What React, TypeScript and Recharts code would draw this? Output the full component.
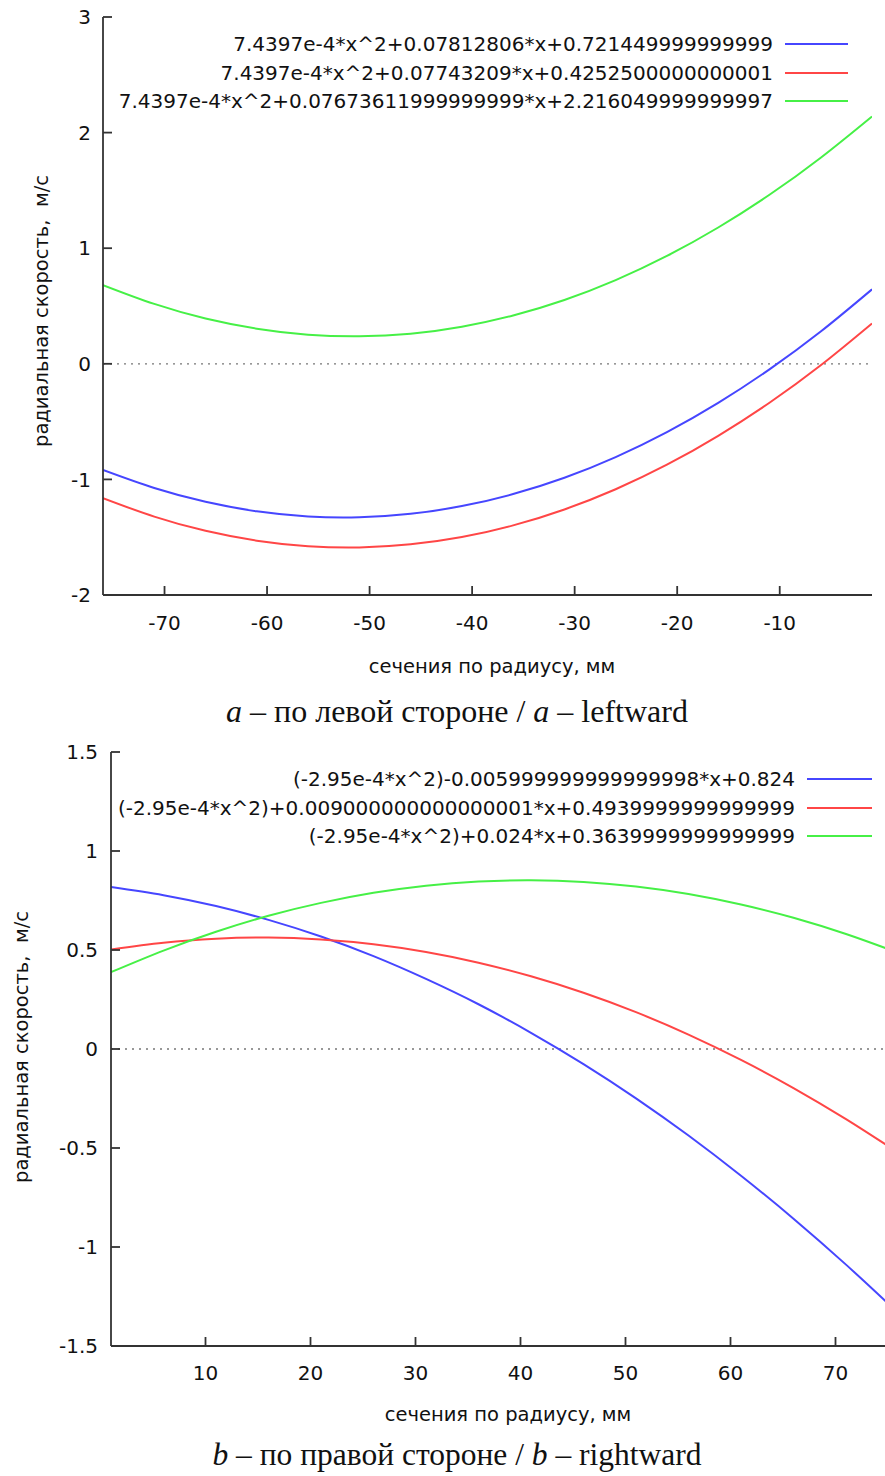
import React from 'react';
import { LineChart, Line, XAxis, YAxis, ReferenceLine } from 'recharts';

// left side (a): x in mm, radial speed in m/s
const leftX = [-76, -71, -66, -61, -56, -51, -46, -41, -36, -31, -26, -21, -16, -11, -6, -1];
const leftBlue = [-0.919, -1.075, -1.194, -1.276, -1.321, -1.328, -1.298, -1.231, -1.127, -0.986, -0.807, -0.591, -0.338, -0.048, 0.279, 0.644];
const leftRed = [-1.162, -1.322, -1.445, -1.530, -1.578, -1.589, -1.562, -1.499, -1.398, -1.260, -1.085, -0.873, -0.623, -0.337, -0.013, 0.349];
const leftGreen = [0.681, 0.518, 0.392, 0.304, 0.252, 0.238, 0.260, 0.321, 0.418, 0.552, 0.724, 0.933, 1.179, 1.462, 1.783, 2.140];
const leftNames = [
  '7.4397e-4*x^2+0.07812806*x+0.721449999999999',
  '7.4397e-4*x^2+0.07743209*x+0.4252500000000001',
  '7.4397e-4*x^2+0.07673611999999999*x+2.216049999999997',
];
const leftXTicks = [-70, -60, -50, -40, -30, -20, -10];
const leftYTicks = [-2, -1, 0, 1, 2, 3];

// right side (b)
const rightX = [1, 6, 11, 16, 21, 26, 31, 36, 41, 46, 51, 56, 61, 66, 71, 75];
const rightBlue = [0.818, 0.777, 0.722, 0.652, 0.568, 0.469, 0.354, 0.226, 0.082, -0.076, -0.249, -0.437, -0.640, -0.857, -1.089, -1.285];
const rightRed = [0.503, 0.537, 0.557, 0.563, 0.553, 0.529, 0.490, 0.436, 0.367, 0.284, 0.186, 0.073, -0.055, -0.197, -0.354, -0.490];
const rightGreen = [0.388, 0.497, 0.592, 0.673, 0.738, 0.789, 0.825, 0.846, 0.852, 0.844, 0.821, 0.783, 0.730, 0.663, 0.581, 0.505];
const rightNames = [
  '(-2.95e-4*x^2)-0.005999999999999998*x+0.824',
  '(-2.95e-4*x^2)+0.009000000000000001*x+0.4939999999999999',
  '(-2.95e-4*x^2)+0.024*x+0.3639999999999999',
];
const rightXTicks = [10, 20, 30, 40, 50, 60, 70];
const rightYTicks = [-1.5, -1, -0.5, 0, 0.5, 1, 1.5];

const colors = ['#4646ff', '#ff4646', '#46f046'];
const sans = '"DejaVu Sans", sans-serif';
const serif = '"Liberation Serif", "Times New Roman", serif';
const frame = '#333';

const leftData = leftX.map((x, i) => ({ x, s0: leftBlue[i], s1: leftRed[i], s2: leftGreen[i] }));
const rightData = rightX.map((x, i) => ({ x, s0: rightBlue[i], s1: rightRed[i], s2: rightGreen[i] }));

type PanelProps = {
  data: { x: number; s0: number; s1: number; s2: number }[];
  names: string[];
  xDomain: [number, number];
  yDomain: [number, number];
  xTicks: number[];
  yTicks: number[];
  top: number;
  width: number;
  height: number;
  margin: { top: number; right: number; left: number; bottom: number };
  yAxisWidth: number;
  xTickMargin: number;
  yTickMargin: number;
  // legend position is relative to the panel
  legend: { top: number; textRight: number; lineLeft: number; lineRight: number };
};

const Panel = (p: PanelProps) => {
  const tickStyle = { fontSize: 20, fill: '#111', fontFamily: sans };
  return (
    <div style={{ position: 'absolute', left: 0, top: p.top, width: p.width, height: p.height }}>
      <LineChart width={p.width} height={p.height} data={p.data} margin={p.margin}>
        <XAxis
          dataKey="x"
          type="number"
          domain={p.xDomain}
          ticks={p.xTicks}
          allowDataOverflow
          height={60}
          tickSize={-9}
          tickMargin={p.xTickMargin}
          tick={tickStyle}
          stroke={frame}
          strokeWidth={1.8}
        />
        <XAxis
          xAxisId="t"
          orientation="top"
          dataKey="x"
          type="number"
          domain={p.xDomain}
          ticks={p.xTicks}
          allowDataOverflow
          height={0}
          tickSize={-9}
          tick={false}
          stroke={frame}
          strokeWidth={1.8}
        />
        <YAxis
          type="number"
          domain={p.yDomain}
          ticks={p.yTicks}
          allowDataOverflow
          width={p.yAxisWidth}
          tickSize={-9}
          tickMargin={p.yTickMargin}
          tick={tickStyle}
          stroke={frame}
          strokeWidth={1.8}
        />
        <YAxis
          yAxisId="r"
          orientation="right"
          type="number"
          domain={p.yDomain}
          ticks={p.yTicks}
          allowDataOverflow
          width={0}
          tickSize={-9}
          tick={false}
          stroke={frame}
          strokeWidth={1.8}
        />
        <ReferenceLine y={0} stroke="#777" strokeWidth={1.3} strokeDasharray="2 5" />
        {['s0', 's1', 's2'].map((k, i) => (
          <Line
            key={k}
            dataKey={k}
            name={p.names[i]}
            type="natural"
            stroke={colors[i]}
            strokeWidth={2}
            dot={false}
            isAnimationActive={false}
          />
        ))}
      </LineChart>
      {p.names.map((n, i) => (
        <div key={n} style={{ position: 'absolute', top: p.legend.top + i * 28.5 - 12, left: 0, width: p.width, height: 24 }}>
          <div
            style={{
              position: 'absolute',
              right: p.width - p.legend.textRight,
              top: 0,
              whiteSpace: 'nowrap',
              fontFamily: sans,
              fontSize: 20,
              lineHeight: '24px',
              color: '#111',
            }}
          >
            {n}
          </div>
          <div
            style={{
              position: 'absolute',
              left: p.legend.lineLeft,
              width: p.legend.lineRight - p.legend.lineLeft,
              top: 11,
              height: 2,
              background: colors[i],
            }}
          />
        </div>
      ))}
    </div>
  );
};

const Txt = ({ x, y, size, font, rotate, children }: any) => (
  <div
    style={{
      position: 'absolute',
      left: x,
      top: y,
      transform: `translate(-50%, -50%)${rotate ? ' rotate(-90deg)' : ''}`,
      whiteSpace: 'nowrap',
      fontFamily: font,
      fontSize: size,
      lineHeight: `${size}px`,
      color: '#111',
    }}
  >
    {children}
  </div>
);

export default function App() {
  return (
    <div style={{ position: 'absolute', left: 0, top: 0, width: 885, height: 1476, overflow: 'hidden', background: '#fff' }}>
      <Panel
        data={leftData}
        names={leftNames}
        xDomain={[-76, -1]}
        yDomain={[-2, 3]}
        xTicks={leftXTicks}
        yTicks={leftYTicks}
        top={0}
        width={885}
        height={660}
        margin={{ top: 17, right: 13, left: 0, bottom: 5 }}
        yAxisWidth={103}
        xTickMargin={30}
        yTickMargin={21}
        legend={{ top: 44, textRight: 773, lineLeft: 785, lineRight: 848 }}
      />
      <Txt x={42} y={311} size={19.5} font={sans} rotate>радиальная скорость,&nbsp;&nbsp;м/с</Txt>
      <Txt x={492} y={667} size={19.5} font={sans}>сечения по радиусу, мм</Txt>
      <Txt x={457} y={711} size={32} font={serif}>
        <i>a</i> – по левой стороне / <i>a</i> – leftward
      </Txt>

      <Panel
        data={rightData}
        names={rightNames}
        xDomain={[1, 75]}
        yDomain={[-1.5, 1.5]}
        xTicks={rightXTicks}
        yTicks={rightYTicks}
        top={735}
        width={890}
        height={676}
        margin={{ top: 17, right: 2, left: 0, bottom: 5 }}
        yAxisWidth={111}
        xTickMargin={29}
        yTickMargin={22}
        legend={{ top: 44, textRight: 795, lineLeft: 807, lineRight: 872 }}
      />
      <Txt x={22} y={1047} size={19.5} font={sans} rotate>радиальная скорость,&nbsp;&nbsp;м/с</Txt>
      <Txt x={508} y={1415} size={19.5} font={sans}>сечения по радиусу, мм</Txt>
      <Txt x={457} y={1455} size={31.5} font={serif}>
        <i>b</i> – по правой стороне / <i>b</i> – rightward
      </Txt>
    </div>
  );
}
